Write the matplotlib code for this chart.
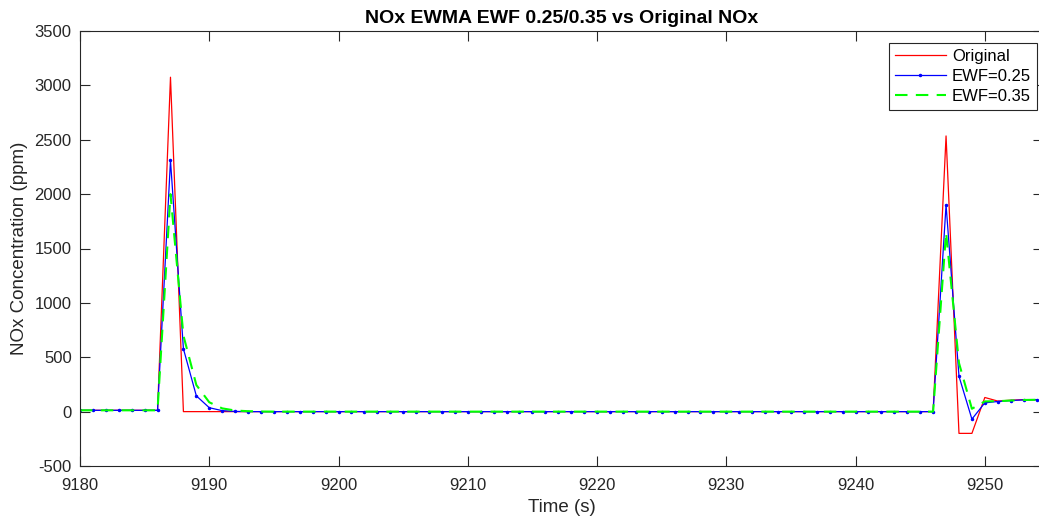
import numpy as np
import matplotlib
matplotlib.use("Agg")
import matplotlib.pyplot as plt

plt.rcParams['font.family'] = ['Liberation Sans', 'DejaVu Sans']
plt.rcParams['axes.unicode_minus'] = False

# time axis (one sample per second)
time_s = np.arange(9180, 9255)

# original NOx signal
nox_original = [12, 12, 12, 12, 12, 12, 12, 3075,
                0, 0, 0, 0, 0, 0, 0, 0, 0, 0,
                0, 0, 0, 0, 0, 0, 0, 0, 0, 0,
                0, 0, 0, 0, 0, 0, 0, 0, 0, 0,
                0, 0, 0, 0, 0, 0, 0, 0, 0, 0,
                0, 0, 0, 0, 0, 0, 0, 0, 0, 0,
                0, 0, 0, 0, 0, 0, 0, 0, 0,
                2535, -200, -200, 130, 97, 105, 110, 110]

# EWMA with EWF = 0.25
nox_ewf025 = [12, 12, 12, 12, 12, 12, 12,
              2310, 578, 145, 36, 9, 2,
              0, 0, 0, 0, 0, 0, 0, 0, 0, 0,
              0, 0, 0, 0, 0, 0, 0, 0, 0, 0,
              0, 0, 0, 0, 0, 0, 0, 0, 0, 0,
              0, 0, 0, 0, 0, 0, 0, 0, 0, 0,
              0, 0, 0, 0, 0, 0, 0, 0, 0, 0,
              0, 0, 0, 0,
              1901, 325, -69, 81, 93, 102, 108, 110]

# EWMA with EWF = 0.35
nox_ewf035 = [12, 12, 12, 12, 12, 12, 12,
              2000, 700, 245, 86, 30, 10, 4, 1,
              0, 0, 0, 0, 0, 0, 0, 0, 0, 0,
              0, 0, 0, 0, 0, 0, 0, 0, 0, 0,
              0, 0, 0, 0, 0, 0, 0, 0, 0, 0,
              0, 0, 0, 0, 0, 0, 0, 0, 0, 0,
              0, 0, 0, 0, 0, 0, 0, 0, 0, 0,
              0, 0,
              1648, 447, 26, 94, 96, 102, 107, 109]

W, H = 1039, 522
fig = plt.figure(figsize=(W / 100, H / 100), dpi=100)
ax = fig.add_axes([80 / W, 1 - 466 / H, 963 / W, 435 / H])

ax.plot(time_s, nox_original, color=(1, 0, 0), lw=0.9, label='Original')
ax.plot(time_s, nox_ewf025, color=(0, 0, 1), lw=0.9, marker='.', markersize=3,
        label='EWF=0.25')
ax.plot(time_s, nox_ewf035, color=(0, 1, 0), lw=1.5, ls=(0, (6, 4)),
        label='EWF=0.35')

ax.set_xlim(9180, 9254.5)
ax.set_ylim(-500, 3500)
ax.set_xticks(np.arange(9180, 9251, 10))
ax.set_yticks(np.arange(-500, 3501, 500))

dark = (0.15, 0.15, 0.15)
for s in ax.spines.values():
    s.set_color(dark)
    s.set_linewidth(0.8)
ax.tick_params(direction='in', length=7, width=0.8, colors=dark,
               labelsize=12, top=True, right=True)
ax.tick_params(axis='x', pad=9)
ax.tick_params(axis='y', pad=6)

ax.set_xlabel('Time (s)', fontsize=13.5, color=dark, labelpad=4)
ax.set_ylabel('NOx Concentration (ppm)', fontsize=13.5, color=dark, labelpad=5)
ax.set_title('NOx EWMA EWF 0.25/0.35 vs Original NOx', fontsize=14,
             fontweight='bold', pad=6)

# legend box roughly at x 897-1037, y 43-112 px
leg = ax.legend(loc='upper right',
                bbox_to_anchor=((1037 - 80) / 963, 1 - 12 / 435),
                borderaxespad=0,
                fontsize=12, fancybox=False, framealpha=1, edgecolor=dark,
                handlelength=3.1, borderpad=0.35, labelspacing=0.3,
                handletextpad=0.35)
leg.get_frame().set_linewidth(0.8)

fig.savefig('out.png', dpi=100)
